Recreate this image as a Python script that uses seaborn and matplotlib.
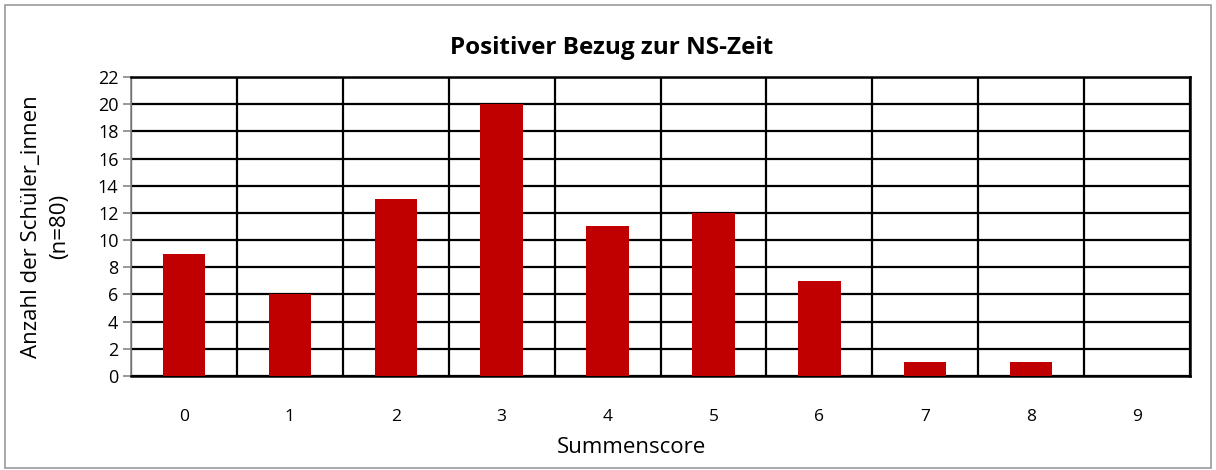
import matplotlib
matplotlib.use("Agg")
import matplotlib.pyplot as plt
import numpy as np
import pandas as pd
import seaborn as sns
from matplotlib.patches import Rectangle

# Data
scores = ["0", "1", "2", "3", "4", "5", "6", "7", "8", "9"]
counts = [9, 6, 13, 20, 11, 12, 7, 1, 1, 0]
y_ticks = list(range(0, 23, 2))

title = "Positiver Bezug zur NS-Zeit"
x_label = "Summenscore"
y_label = "Anzahl der Schüler_innen\n(n=80)"

df = pd.DataFrame({"score": scores, "count": counts})

sns.set_style("white")
plt.rcParams["font.family"] = ["Open Sans", "DejaVu Sans"]
plt.rcParams["text.color"] = "black"
plt.rcParams["axes.labelcolor"] = "black"

fig = plt.figure(figsize=(12.16, 4.70), dpi=100)
ax = fig.add_axes([0.1077, 0.2, 0.871, 0.6362])

sns.barplot(data=df, x="score", y="count", color="#C00000", width=0.4,
            saturation=1, linewidth=0, ax=ax, zorder=3)

ax.set_xlim(-0.5, len(scores) - 0.5)
ax.set_ylim(0, 22)
ax.set_yticks(y_ticks)
ax.set_yticklabels([str(t) for t in y_ticks])
ax.tick_params(axis="x", length=0, pad=24, labelsize=12.5, labelcolor="black")
ax.tick_params(axis="y", length=6, width=1.2, color="#888888", pad=3,
               direction="out", left=True, labelsize=13, labelcolor="black")

# horizontal and vertical grid (category boundaries)
ax.set_xticks(np.arange(-0.5, len(scores), 1), minor=True)
ax.tick_params(axis="x", which="minor", length=0)
ax.grid(axis="y", which="major", color="black", linewidth=1.6, zorder=1)
ax.grid(axis="x", which="minor", color="black", linewidth=1.6, zorder=1)
ax.set_axisbelow(True)

for side in ["top", "right", "bottom"]:
    ax.spines[side].set_visible(True)
    ax.spines[side].set_color("black")
    ax.spines[side].set_linewidth(1.8)
ax.spines["left"].set_color("#888888")
ax.spines["left"].set_linewidth(1.2)

# title centred on the whole chart area
fig.text(0.503, 0.898, title, fontsize=17.5, fontweight="bold", ha="center", va="center")
ax.set_xlabel(x_label, fontsize=16)
ax.xaxis.set_label_coords(0.473, -0.205)
ax.set_ylabel(y_label, fontsize=16, labelpad=20, linespacing=1.45)

# light frame around the whole chart
fig.patches.append(Rectangle((0.004, 0.004), 0.992, 0.985, transform=fig.transFigure,
                             fill=False, edgecolor="#999999", linewidth=1.2))

fig.savefig("out.png", dpi=100)
